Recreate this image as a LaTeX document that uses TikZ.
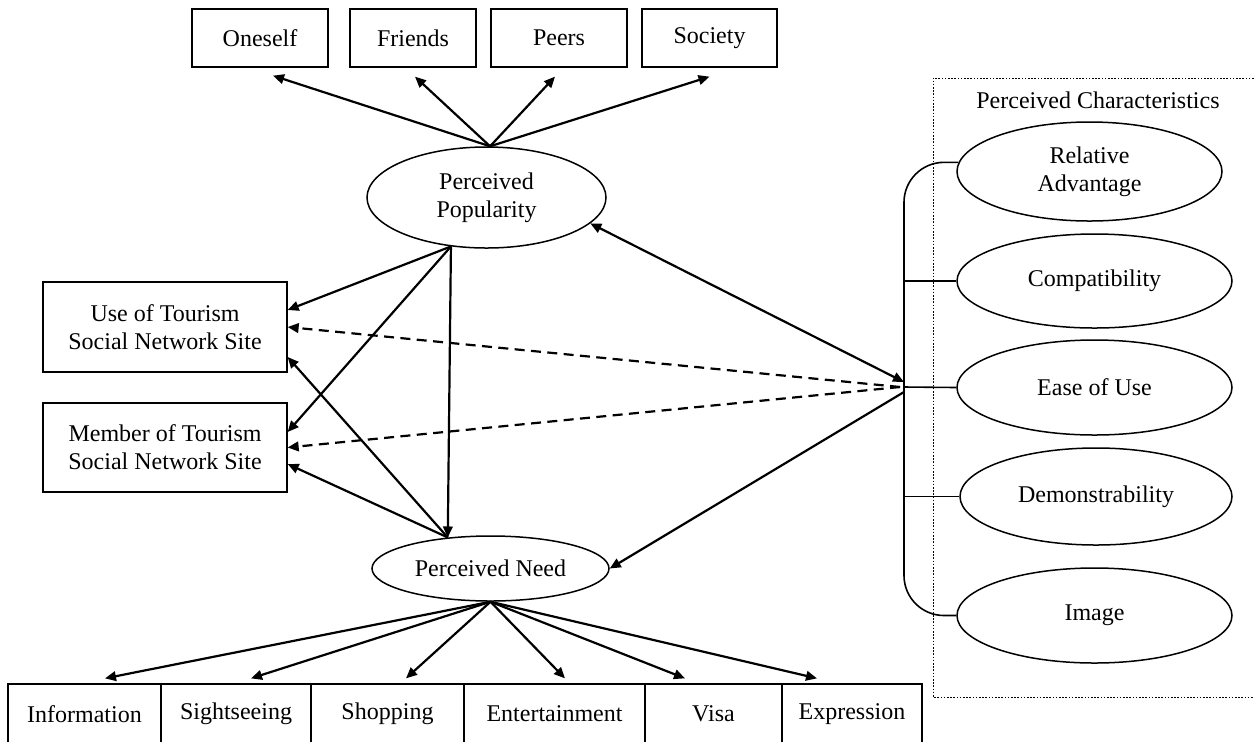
\documentclass[tikz,border=0pt]{standalone}
\usepackage{fontspec}
\setmainfont{Liberation Serif}
\usetikzlibrary{shapes.geometric,arrows.meta}
\tikzset{
  lbl/.style={font=\fontsize{12}{14}\selectfont, align=center, inner sep=0pt},
  box/.style={lbl, draw, line width=0.65pt},
  oval/.style={lbl, draw, ellipse, line width=0.75pt},
  arr/.style={-{Triangle[length=5.5pt,width=4.8pt]}, line width=1.1pt},
  darr/.style={{Triangle[length=5.5pt,width=4.8pt]}-{Triangle[length=5.5pt,width=4.8pt]}, line width=1.1pt},
  dsh/.style={arr, dash pattern=on 5pt off 3.2pt},
  brk/.style={line width=0.8pt, rounded corners=20pt},
  frame/.style={line width=0.4pt, dash pattern=on 0.8pt off 0.8pt},
}
\begin{document}
\begin{tikzpicture}[x=0.5pt,y=-0.5pt]
\useasboundingbox (0,0) rectangle (1254,741);

% top boxes
\node[box, minimum width=68pt, minimum height=29pt] (oneself) at (260,38) {Oneself};
\node[box, minimum width=63pt, minimum height=29pt] (friends) at (413,38) {Friends};
\node[box, minimum width=68pt, minimum height=29pt] (peers) at (559,38) {Peers};
\node[box, minimum width=67.5pt, minimum height=29pt] (society) at (709.5,38) {Society};

% central ellipses
\node[oval, minimum width=119.5pt, minimum height=50.5pt] (pop) at (486.5,197.5) {Perceived\\Popularity};
\node[oval, minimum width=118.5pt, minimum height=32.5pt] (need) at (490.5,568.5) {Perceived Need};

% left boxes
\node[box, minimum width=122pt, minimum height=45pt] (use) at (165,327) {Use of Tourism\\Social Network Site};
\node[box, minimum width=122pt, minimum height=44.5pt] (member) at (165,447.5) {Member of Tourism\\Social Network Site};

% bottom boxes
\node[box, minimum width=76.5pt, minimum height=30pt] (info) at (84.5,714) {Information};
\node[box, minimum width=75pt, minimum height=30pt] (sight) at (236,714) {Sightseeing};
\node[box, minimum width=76.5pt, minimum height=30pt] (shop) at (387.5,714) {Shopping};
\node[box, minimum width=90.5pt, minimum height=30pt] (ent) at (554.5,714) {Entertainment};
\node[box, minimum width=68.5pt, minimum height=30pt] (visa) at (713.5,714) {Visa};
\node[box, minimum width=70pt, minimum height=30pt] (expr) at (852,714) {Expression};

% right side
\draw[frame] (1260,78) -- (933,78) -- (933,697) -- (1260,697);
\node[lbl] (pctitle) at (1098,100) {Perceived Characteristics};
\node[oval, minimum width=132.5pt, minimum height=49.5pt] (rel) at (1089.5,171.5) {Relative\\Advantage};
\node[oval, minimum width=137.5pt, minimum height=47pt] (comp) at (1094.5,281) {Compatibility};
\node[oval, minimum width=137.5pt, minimum height=47.5pt] (ease) at (1094.5,387.5) {Ease of Use};
\node[oval, minimum width=136pt, minimum height=48.5pt] (demo) at (1096,496.5) {Demonstrability};
\node[oval, minimum width=137.5pt, minimum height=47.5pt] (img) at (1094.5,615.5) {Image};

\coordinate (br) at (904,387);
\draw[brk] (rel.176.5) -| (br) |- (img.west);
\draw[line width=0.8pt] (br |- comp.west) -- (comp.west);
\draw[line width=0.8pt] (br) -- (ease.west);
\draw[line width=0.8pt] (br |- demo.west) -- (demo.west);

% top fan
\draw[arr] (pop.86) -- ([xshift=6.5pt,yshift=-4pt]oneself.south);
\draw[arr] (pop.86) -- ([xshift=1pt,yshift=-4.5pt]friends.south);
\draw[arr] (pop.86) -- ([xshift=-2pt,yshift=-4.5pt]peers.south);
\draw[arr] (pop.86) -- ([yshift=-4.5pt]society.south);

% popularity / need to left boxes
\draw[arr] (pop.-126) -- ([yshift=8.5pt]use.east);
\draw[arr] (pop.-126) -- ([yshift=7.75pt]member.east);
\draw[arr] (pop.-126) -- (need.144);
\draw[arr] (need.144) -- ([yshift=-15pt]use.east);
\draw[arr] (need.144) -- ([yshift=-8.25pt]member.east);

% characteristics links
\draw[darr] (pop.-14) -- ([yshift=2.5pt]br);
\draw[arr] ([yshift=-2.5pt]br) -- (need.east);
\draw[dsh] ([xshift=-2pt]br) -- (use.east);
\draw[dsh] ([xshift=-2pt]br) -- (member.east);

% bottom fan
\draw[arr] (need.south) -- ([xshift=10.25pt,yshift=2.5pt]info.north);
\draw[arr] (need.south) -- ([xshift=7.5pt,yshift=2.5pt]sight.north);
\draw[arr] (need.south) -- ([xshift=9.25pt,yshift=2.5pt]shop.north);
\draw[arr] (need.south) -- ([xshift=5.25pt,yshift=2.5pt]ent.north);
\draw[arr] (need.south) -- ([xshift=-14.25pt,yshift=2.5pt]visa.north);
\draw[arr] (need.south) -- ([xshift=-17.5pt,yshift=2.5pt]expr.north);
\end{tikzpicture}
\end{document}
